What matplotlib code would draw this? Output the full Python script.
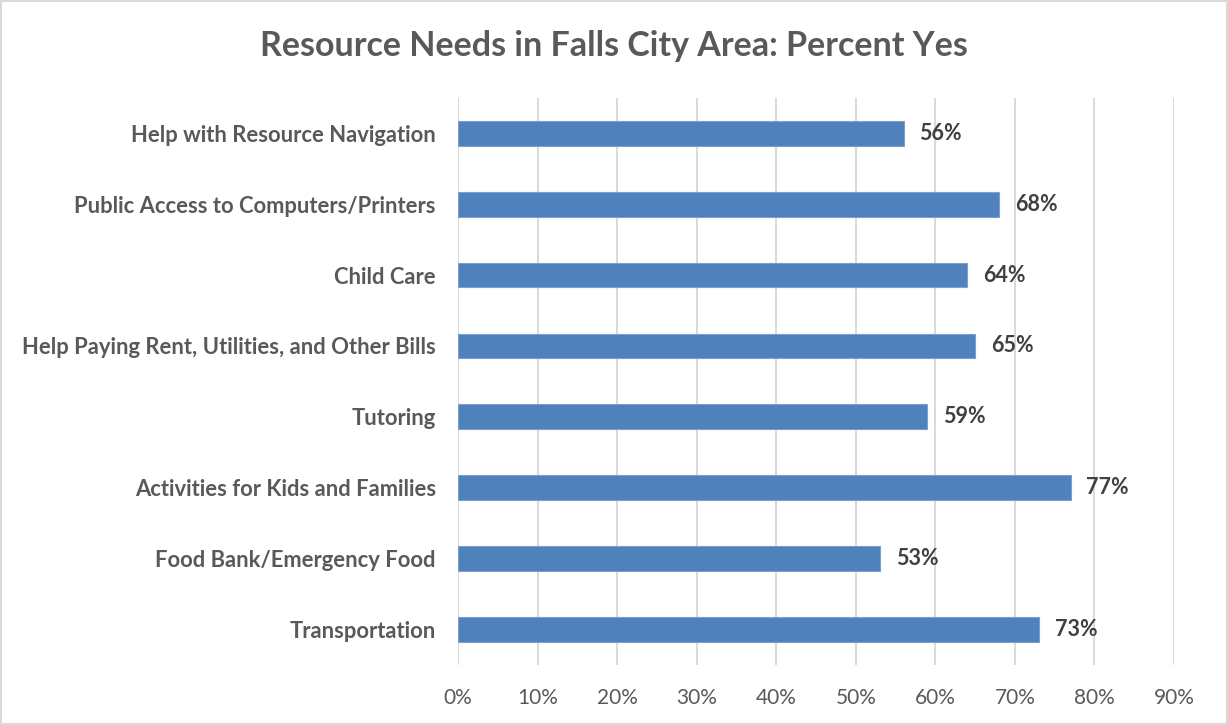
import matplotlib.pyplot as plt
from matplotlib.patches import Rectangle
from matplotlib.ticker import FuncFormatter

# Survey results, listed top to bottom as shown
categories = [
    "Help with Resource Navigation",
    "Public Access to Computers/Printers",
    "Child Care",
    "Help Paying Rent, Utilities, and Other Bills",
    "Tutoring",
    "Activities for Kids and Families",
    "Food Bank/Emergency Food",
    "Transportation",
]
percent_yes = [56, 68, 64, 65, 59, 77, 53, 73]
x_ticks = [0, 10, 20, 30, 40, 50, 60, 70, 80, 90]

plt.rcParams['font.family'] = ['Lato', 'DejaVu Sans']

fig = plt.figure(figsize=(12.28, 7.25), dpi=100)
ax = fig.add_axes([0.373, 0.083, 0.583, 0.782])

# bottom-to-top ordering for barh
ypos = list(range(len(categories)))[::-1]
ax.barh(ypos, percent_yes, height=0.35, color='#4F81BD', edgecolor='#7BA0CD',
        linewidth=0.8, zorder=3)

for y, v in zip(ypos, percent_yes):
    ax.text(v + 2.0, y, f"{v}%", va='center', ha='left', fontsize=15.5,
            fontweight='bold', color='#404040')

ax.set_xlim(0, 90)
ax.set_ylim(-0.5, len(categories) - 0.5)
ax.set_xticks(x_ticks)
ax.xaxis.set_major_formatter(FuncFormatter(lambda v, p: f"{v:.0f}%"))
ax.set_yticks(ypos)
ax.set_yticklabels(categories, fontsize=15.8, fontweight='bold', color='#595959')
ax.tick_params(axis='y', length=0, pad=16)
ax.tick_params(axis='x', length=0, pad=17, labelsize=15, labelcolor='#595959')

ax.grid(axis='x', color='#D9D9D9', linewidth=1.4, zorder=0)
for s in ax.spines.values():
    s.set_visible(False)

fig.text(0.5, 0.937, "Resource Needs in Falls City Area: Percent Yes",
         ha='center', va='center', fontsize=24.5, fontweight='bold', color='#595959')

# thin frame around the chart area
fig.patches.append(Rectangle((0.001, 0.001), 0.998, 0.997, transform=fig.transFigure,
                             fill=False, edgecolor='#D9D9D9', linewidth=1.5))

fig.savefig("out.png", dpi=100)
